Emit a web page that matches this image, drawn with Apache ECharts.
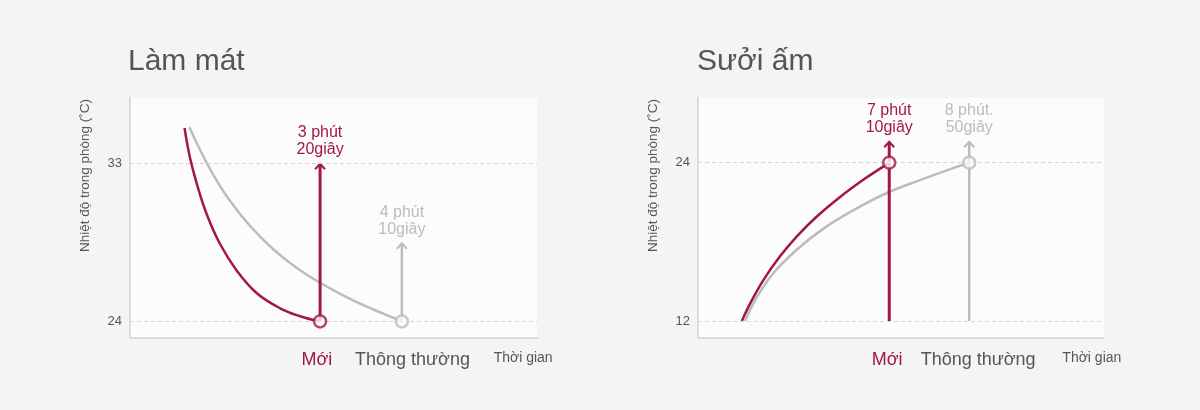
<!DOCTYPE html>
<html>
<head>
<meta charset="utf-8">
<script src="https://cdn.jsdelivr.net/npm/echarts@6/dist/echarts.min.js"></script>
<style>
  html, body { margin: 0; padding: 0; background: #f4f4f4; }
  #chart { width: 1200px; height: 410px; }
</style>
</head>
<body>
<div id="chart"></div>
<script>
// --- data (x: arbitrary time units 0-100, y: room temp in C) ---
var titles = ['Làm mát', 'Sưởi ấm'];
var yName = 'Nhiệt độ trong phòng (˚C)';

// cooling
var coolNew = [[13.4, 35.0], [14.7, 33.35], [16.4, 31.84], [18.8, 30.13], [22.1, 28.42],
               [26.2, 26.9], [31.1, 25.62], [36.9, 24.75], [41.8, 24.3], [46.7, 24]];
var coolOld = [[14.6, 35.05], [17.2, 33.77], [20.5, 32.33], [24.6, 30.85], [29.5, 29.43],
               [35.2, 28.11], [41.0, 27.04], [46.7, 26.2], [53.2, 25.39], [59.8, 24.68],
               [65.5, 24.13], [66.8, 24]];
var coolTicks = [24, 33];
var coolArrows = [[46.7, 24, 33], [66.8, 24, 28.48]];
var coolArrowText = ['3 phút\n20giây', '4 phút\n10giây'];
var coolMarks = [[46.7, 24], [66.8, 24]];
var coolXLabels = [[45.9, 'Mới'], [69.4, 'Thông thường'], [96.6, 'Thời gian']];

// heating
var heatNew = [[10.8, 12.0], [12.8, 13.3], [16.1, 15.1], [20.2, 16.9], [24.3, 18.4],
               [29.2, 19.9], [35.0, 21.4], [40.7, 22.7], [45.6, 23.7], [47.1, 24]];
var heatOld = [[11.6, 12.0], [14.5, 13.8], [18.5, 15.6], [24.3, 17.4], [30.9, 19.0],
               [38.3, 20.4], [46.5, 21.7], [54.7, 22.68], [61.3, 23.42], [66.8, 24]];
var heatTicks = [12, 24];
var heatArrows = [[47.1, 12, 25.62], [66.8, 12, 25.62]];
var heatArrowText = ['7 phút\n10giây', '8 phút.\n50giây'];
var heatMarks = [[47.1, 24], [66.8, 24]];
var heatXLabels = [[46.6, 'Mới'], [69.0, 'Thông thường'], [97.0, 'Thời gian']];

var RED = '#a3164b';
var GREY = '#bcbcbc';
var FONT = "'Liberation Sans', Arial, sans-serif";

var dom = document.getElementById('chart');
var myChart = echarts.init(dom, null, { renderer: 'canvas' });

function xAxisFor(idx, labels) {
  var names = {};
  labels.forEach(function (l) { names[l[0]] = l[1]; });
  return {
    type: 'value', gridIndex: idx, min: 0, max: 100,
    axisLine: { show: true, onZero: false, lineStyle: { color: '#dcdcdc', width: 2 } },
    axisTick: { show: false },
    splitLine: { show: false },
    axisLabel: {
      customValues: labels.map(function (l) { return l[0]; }),
      margin: 13,
      formatter: function (v) {
        var t = names[v];
        if (t === 'Mới') return '{n|' + t + '}';
        if (t === 'Thời gian') return '{t|' + t + '}';
        return '{o|' + t + '}';
      },
      rich: {
        n: { color: RED, fontSize: 18, fontFamily: FONT },
        o: { color: '#555', fontSize: 18, fontFamily: FONT },
        t: { color: '#555', fontSize: 14, fontFamily: FONT }
      }
    }
  };
}

function yAxisFor(idx, min, max, ticks) {
  return {
    type: 'value', gridIndex: idx, min: min, max: max,
    name: yName, nameLocation: 'middle', nameRotate: 90, nameGap: 38,
    nameTextStyle: { color: '#555', fontSize: 13.5, fontFamily: FONT, padding: [0, 0, 0, 85] },
    axisLine: { show: true, lineStyle: { color: '#dcdcdc', width: 2 } },
    axisTick: { show: false },
    splitLine: { show: false },
    axisLabel: { customValues: ticks, color: '#555', fontSize: 13, fontFamily: FONT, margin: 8 }
  };
}

function arrowRender(color, width, texts) {
  return function (params, api) {
    var base = api.coord([api.value(0), api.value(1)]);
    var tip = api.coord([api.value(0), api.value(2)]);
    return {
      type: 'group',
      children: [
        { type: 'line', shape: { x1: base[0], y1: base[1], x2: tip[0], y2: tip[1] + 1 },
          style: { stroke: color, lineWidth: width } },
        { type: 'polyline', shape: { points: [[tip[0] - 5, tip[1] + 6], [tip[0], tip[1] + 0.5], [tip[0] + 5, tip[1] + 6]] },
          style: { stroke: color, lineWidth: 2, fill: null } },
        { type: 'text', x: tip[0], y: tip[1] - 5,
          style: { text: texts[params.dataIndex], fill: color, font: '16px ' + FONT,
                   align: 'center', verticalAlign: 'bottom', lineHeight: 17 } }
      ]
    };
  };
}

function curve(idx, data, color, z, guides) {
  var s = {
    type: 'line', xAxisIndex: idx, yAxisIndex: idx, data: data,
    smooth: 0.4, showSymbol: false, silent: true, z: z,
    lineStyle: { color: color, width: 2.5 }
  };
  if (guides) {
    s.markLine = {
      silent: true, symbol: ['none', 'none'], label: { show: false },
      lineStyle: { color: '#d6d6d6', width: 1, type: [4, 3] },
      data: guides.map(function (g) { return { yAxis: g }; })
    };
  }
  return s;
}

function arrows(idx, data, color, width, texts) {
  return { type: 'custom', xAxisIndex: idx, yAxisIndex: idx, z: 4, silent: true,
           data: data, renderItem: arrowRender(color, width, texts) };
}

function markers(idx, marks) {
  return {
    type: 'scatter', xAxisIndex: idx, yAxisIndex: idx, z: 6, silent: true,
    symbol: 'circle', symbolSize: 12,
    data: marks.map(function (m, i) {
      return { value: m,
               itemStyle: { color: '#fafafa', borderColor: i === 0 ? RED : GREY, borderWidth: 2.5 } };
    })
  };
}

var option = {
  backgroundColor: '#f4f4f4',
  animation: false,
  title: [
    { text: titles[0], left: 123, top: 42, textStyle: { color: '#555', fontSize: 30, fontWeight: 'normal', fontFamily: FONT } },
    { text: titles[1], left: 692, top: 42, textStyle: { color: '#555', fontSize: 30, fontWeight: 'normal', fontFamily: FONT } }
  ],
  grid: [
    { left: 130, top: 98, width: 407, height: 240, show: true, backgroundColor: '#fcfcfc', borderWidth: 0 },
    { left: 698, top: 98, width: 406, height: 240, show: true, backgroundColor: '#fcfcfc', borderWidth: 0 }
  ],
  xAxis: [xAxisFor(0, coolXLabels), xAxisFor(1, heatXLabels)],
  yAxis: [yAxisFor(0, 23.06, 36.71, coolTicks), yAxisFor(1, 10.71, 28.9, heatTicks)],
  series: [
    curve(0, coolOld, GREY, 2, coolTicks),
    curve(0, coolNew, RED, 3),
    arrows(0, coolArrows.slice(0, 1), RED, 3, coolArrowText.slice(0, 1)),
    arrows(0, coolArrows.slice(1), GREY, 2.5, coolArrowText.slice(1)),
    markers(0, coolMarks),

    curve(1, heatOld, GREY, 2, heatTicks),
    curve(1, heatNew, RED, 3),
    arrows(1, heatArrows.slice(0, 1), RED, 3, heatArrowText.slice(0, 1)),
    arrows(1, heatArrows.slice(1), GREY, 2.5, heatArrowText.slice(1)),
    markers(1, heatMarks)
  ]
};

myChart.setOption(option);
window.addEventListener('resize', myChart.resize);
</script>
</body>
</html>
